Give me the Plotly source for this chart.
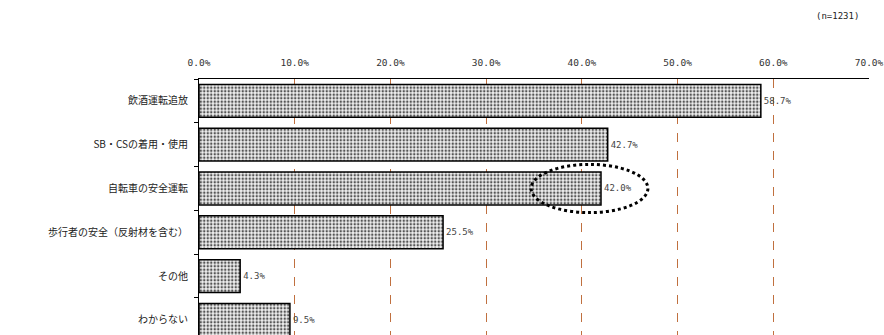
import plotly.graph_objects as go

categories = ["飲酒運転追放", "SB・CSの着用・使用", "自転車の安全運転",
              "歩行者の安全（反射材を含む）", "その他", "わからない"]
values = [58.7, 42.7, 42.0, 25.5, 4.3, 9.5]
tick_vals = [0, 10, 20, 30, 40, 50, 60, 70]
tick_text = [f"{v:.1f}%" for v in tick_vals]
value_labels = [f"{v:.1f}%" for v in values]
n_note = "(n=1231)"
highlight_index = 2

fig = go.Figure()
fig.add_trace(go.Bar(
    x=values, y=categories, orientation="h",
    width=0.75,
    marker=dict(
        color="#f2f2f2",
        line=dict(color="#000000", width=1.5),
        pattern=dict(shape=".", size=3.5, solidity=0.4,
                     fgcolor="#555555", bgcolor="#f0f0f0", fillmode="replace"),
    ),
    text=value_labels, textposition="outside",
    textfont=dict(size=9, color="#444444", family="DejaVu Sans Mono"),
    cliponaxis=False,
))

fig.update_layout(
    width=884, height=335,
    margin=dict(l=199, r=15, t=79, b=0),
    paper_bgcolor="white", plot_bgcolor="white",
    showlegend=False,
    font=dict(family="Noto Sans CJK JP", size=10, color="#222222"),
    xaxis=dict(
        range=[0, 70], side="top",
        tickvals=tick_vals, ticktext=tick_text,
        tickfont=dict(size=9.5, family="DejaVu Sans Mono", color="#333333"),
        showgrid=True, gridcolor="#c0703f", griddash="dash", gridwidth=1,
        showline=True, linecolor="#000000", linewidth=1,
        zeroline=False, ticks="", ticklabelstandoff=8,
    ),
    yaxis=dict(
        categoryorder="array", categoryarray=categories,
        range=[5.345, -0.5],
        showline=True, linecolor="#000000", linewidth=1,
        ticks="outside", tickson="boundaries", ticklen=4, tickcolor="#000000",
        tickfont=dict(size=10, family="Noto Sans CJK JP", color="#222222"),
        showgrid=False, ticklabelstandoff=8,
    ),
)

# dotted ellipse highlighting a label
fig.add_shape(type="circle", xref="x", yref="y",
              x0=values[highlight_index] - 7.3, x1=values[highlight_index] + 4.9,
              y0=highlight_index - 0.55, y1=highlight_index + 0.55,
              line=dict(color="#000000", width=3, dash="dot"))

fig.add_annotation(text=n_note, xref="paper", yref="paper",
                   x=1.0, y=1.0, xanchor="right", yanchor="bottom",
                   yshift=56, xshift=-8, showarrow=False,
                   font=dict(size=9, family="DejaVu Sans Mono", color="#222222"))

fig.write_html("out.html")
